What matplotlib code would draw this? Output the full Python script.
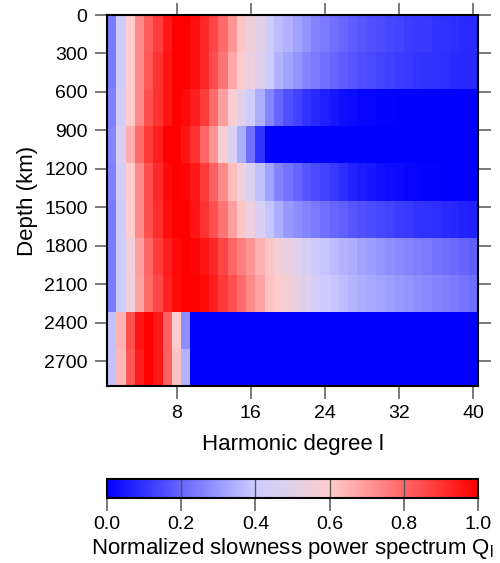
import numpy as np
import matplotlib
matplotlib.use("Agg")
import matplotlib.pyplot as plt
from matplotlib.colors import LinearSegmentedColormap

plt.rcParams['font.family'] = ['Liberation Sans', 'DejaVu Sans']
plt.rcParams['mathtext.fontset'] = 'custom'
plt.rcParams['mathtext.rm'] = 'Liberation Sans'

# ---- data ----
degrees = list(range(1, 41))
depth_edges = [0, 289, 578, 867, 1156, 1446, 1735, 2024, 2313, 2602, 2891]
depth_ticks = [0, 300, 600, 900, 1200, 1500, 1800, 2100, 2400, 2700]
degree_ticks = [8, 16, 24, 32, 40]
cbar_ticks = [0.0, 0.2, 0.4, 0.6, 0.8, 1.0]

layer1 = [0.24, 0.41, 0.60, 0.73, 0.82, 0.88, 0.95, 1.00, 1.00, 0.97,
          0.92, 0.86, 0.79, 0.71, 0.61, 0.55, 0.50, 0.42, 0.37, 0.35,
          0.32, 0.29, 0.26, 0.24, 0.22, 0.20, 0.18, 0.17, 0.16, 0.15,
          0.14, 0.13, 0.12, 0.115, 0.11, 0.10, 0.095, 0.09, 0.085, 0.08]
layer2 = [0.24, 0.41, 0.60, 0.73, 0.83, 0.90, 0.96, 1.00, 1.00, 0.97,
          0.92, 0.85, 0.77, 0.67, 0.59, 0.54, 0.48, 0.41, 0.35, 0.32,
          0.29, 0.26, 0.24, 0.22, 0.20, 0.18, 0.17, 0.155, 0.145, 0.135,
          0.125, 0.12, 0.11, 0.105, 0.10, 0.095, 0.09, 0.085, 0.08, 0.08]
layer3 = [0.25, 0.42, 0.60, 0.73, 0.84, 0.90, 0.96, 1.00, 0.98, 0.94,
          0.88, 0.79, 0.69, 0.58, 0.50, 0.42, 0.34, 0.26, 0.20, 0.16,
          0.13, 0.10, 0.08, 0.06, 0.045, 0.03, 0.02, 0.015, 0.01, 0.005,
          0.005, 0.0, 0.0, 0.0, 0.0, 0.0, 0.0, 0.0, 0.0, 0.0]
layer4 = [0.26, 0.46, 0.66, 0.79, 0.88, 0.94, 1.00, 1.00, 0.96, 0.90,
          0.80, 0.71, 0.58, 0.47, 0.34, 0.22, 0.10, 0.0, 0.0, 0.0,
          0.0, 0.0, 0.0, 0.0, 0.0, 0.0, 0.0, 0.0, 0.0, 0.0,
          0.0, 0.0, 0.0, 0.0, 0.0, 0.0, 0.0, 0.0, 0.0, 0.0]
layer5 = [0.25, 0.42, 0.60, 0.73, 0.84, 0.92, 0.98, 1.00, 0.99, 0.95,
          0.89, 0.81, 0.73, 0.63, 0.55, 0.47, 0.38, 0.32, 0.26, 0.23,
          0.20, 0.17, 0.15, 0.13, 0.11, 0.09, 0.07, 0.055, 0.045, 0.035,
          0.025, 0.02, 0.015, 0.01, 0.005, 0.005, 0.0, 0.0, 0.0, 0.0]
layer6 = [0.24, 0.41, 0.60, 0.73, 0.84, 0.91, 0.97, 1.00, 1.00, 0.96,
          0.90, 0.84, 0.77, 0.69, 0.61, 0.54, 0.46, 0.39, 0.34, 0.30,
          0.28, 0.26, 0.24, 0.22, 0.20, 0.19, 0.17, 0.16, 0.15, 0.14,
          0.13, 0.12, 0.11, 0.10, 0.095, 0.09, 0.08, 0.075, 0.07, 0.065]
layer7 = [0.24, 0.41, 0.55, 0.69, 0.80, 0.88, 0.94, 0.98, 1.00, 0.99,
          0.96, 0.92, 0.86, 0.80, 0.75, 0.71, 0.65, 0.61, 0.56, 0.53,
          0.49, 0.45, 0.41, 0.39, 0.37, 0.35, 0.34, 0.32, 0.31, 0.29,
          0.28, 0.27, 0.26, 0.25, 0.24, 0.23, 0.22, 0.21, 0.20, 0.19]
layer8 = [0.24, 0.40, 0.55, 0.68, 0.79, 0.86, 0.93, 0.98, 1.00, 1.00,
          0.98, 0.94, 0.89, 0.84, 0.79, 0.73, 0.68, 0.62, 0.59, 0.56,
          0.52, 0.48, 0.44, 0.41, 0.39, 0.37, 0.355, 0.34, 0.33, 0.32,
          0.31, 0.30, 0.29, 0.28, 0.27, 0.26, 0.25, 0.24, 0.23, 0.22]
layer9 = [0.38, 0.65, 0.84, 0.96, 1.00, 0.95, 0.81, 0.59, 0.28, 0.0,
          0.0, 0.0, 0.0, 0.0, 0.0, 0.0, 0.0, 0.0, 0.0, 0.0,
          0.0, 0.0, 0.0, 0.0, 0.0, 0.0, 0.0, 0.0, 0.0, 0.0,
          0.0, 0.0, 0.0, 0.0, 0.0, 0.0, 0.0, 0.0, 0.0, 0.0]
layer10 = [0.38, 0.64, 0.83, 0.94, 1.00, 0.95, 0.81, 0.62, 0.35, 0.0,
           0.0, 0.0, 0.0, 0.0, 0.0, 0.0, 0.0, 0.0, 0.0, 0.0,
           0.0, 0.0, 0.0, 0.0, 0.0, 0.0, 0.0, 0.0, 0.0, 0.0,
           0.0, 0.0, 0.0, 0.0, 0.0, 0.0, 0.0, 0.0, 0.0, 0.0]

Q = np.array([layer1, layer2, layer3, layer4, layer5,
              layer6, layer7, layer8, layer9, layer10])

# ---- colormap ----
cmap = LinearSegmentedColormap.from_list(
    "bwr_soft",
    [(0.0, (0, 0, 1)),
     (0.4, (0.80, 0.80, 1.0)),
     (0.5, (0.88, 0.82, 0.91)),
     (0.6, (1.0, 0.80, 0.80)),
     (1.0, (1, 0, 0))])

fig = plt.figure(figsize=(5.0, 5.63), dpi=100)
ax = fig.add_axes([107/500, 1-386/563, 371/500, 371/563])

x_edges = np.arange(0.5, len(degrees) + 1, 1.0)
mesh = ax.pcolormesh(x_edges, depth_edges, Q, cmap=cmap, vmin=0, vmax=1,
                     shading='flat')
ax.set_xlim(0.5, 40.5)
ax.set_ylim(depth_edges[-1], 0)

ax.set_xticks(degree_ticks)
ax.set_yticks(depth_ticks)
ax.tick_params(axis='both', which='both', direction='out', length=9,
               width=1.1, color='#555555', labelsize=14, pad=5,
               top=True, right=True, labeltop=False, labelright=False)
for s in ax.spines.values():
    s.set_linewidth(1.5)
    s.set_color('black')

ax.set_xlabel("Harmonic degree l", fontsize=16, labelpad=8)
ax.set_ylabel("Depth (km)", fontsize=16, labelpad=4)

# ---- colorbar ----
cax = fig.add_axes([107/500, 1-498/563, 371/500, 19/563])
cb = fig.colorbar(mesh, cax=cax, orientation='horizontal')
cb.set_ticks(cbar_ticks)
cb.set_ticklabels([f"{t:.1f}" for t in cbar_ticks])
cax.tick_params(direction='out', length=9, width=1.1, color='#555555',
                labelsize=14, pad=4)
for t in cbar_ticks[1:-1]:
    cax.axvline(t, color='#555555', lw=1.0)
cb.outline.set_linewidth(1.5)
cb.set_label("Normalized slowness power spectrum Q$_\\mathrm{l}$",
             fontsize=16, labelpad=2)

fig.savefig("out.png", dpi=100)
